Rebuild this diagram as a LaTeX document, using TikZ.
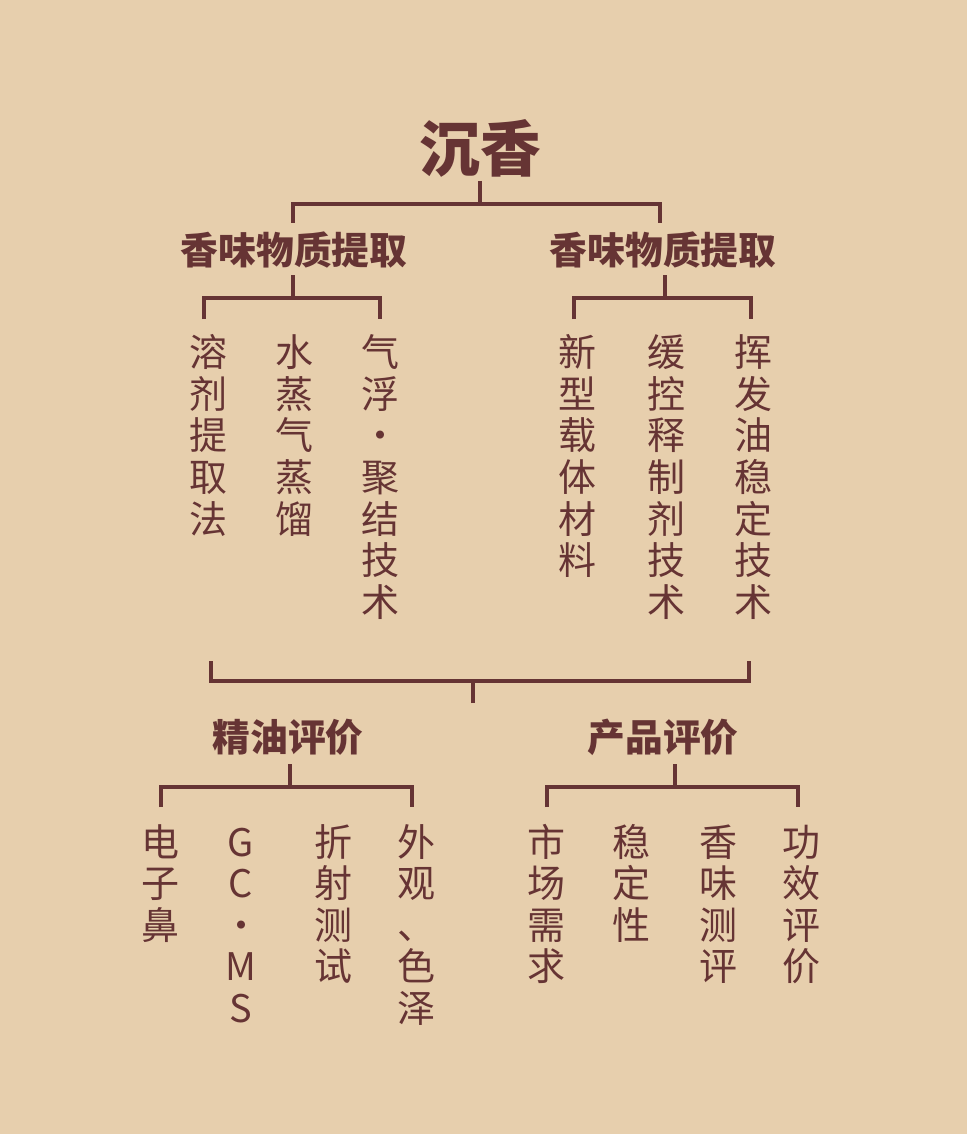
\documentclass[tikz,border=0pt]{standalone}
\usepackage{fontspec}
\setmainfont{Noto Sans CJK SC}
\usetikzlibrary{calc,positioning}
\definecolor{ink}{RGB}{102,52,52}
\definecolor{paper}{RGB}{231,207,173}

\begin{document}
\begin{tikzpicture} [x=0.75pt,y=-0.75pt,{title/.style={font=\fontsize{45.5}{50}\selectfont\bfseries,text=ink,inner sep=0}},{head/.style={font=\fontsize{28.3}{32}\selectfont\bfseries,text=ink,inner sep=0,text height=24.9pt,text depth=3.4pt}},{leaf/.style={font=\fontsize{28.5}{32}\selectfont,text=ink,inner sep=0,text height=25.1pt,text depth=3.4pt}},{link/.style={draw=ink,line width=2.6pt}}]
	%%paper
	\fill [paper] (0,0) rectangle (967,1134);
	%%headings
	\node [title] (root) at (480,148) {沉香};
	\node [head] (hdA) at (294,250) {香味物质提取};
	\node [head] (hdB) at (663,250) {香味物质提取};
	\node [head] (hdC) at (288,737) {精油评价};
	\node [head] (hdD) at (663,737) {产品评价};
	%%upper columns
	\foreach \x/\txt/\nm in {208/{溶,剂,提,取,法}/a1, 294/{水,蒸,气,蒸,馏}/a2, 380/{气,浮,·,聚,结,技,术}/a3, 577/{新,型,载,体,材,料}/b1, 666/{缓,控,释,制,剂,技,术}/b2, 753/{挥,发,油,稳,定,技,术}/b3}
		\foreach \c [count=\i] in \txt
			\node [leaf] (\nm-\i) at (\x,352+41.7*\i-41.7) {\c};
	%%lower columns
	\foreach \x/\txt/\nm in {160/{电,子,鼻}/c1, 241/{G,C,·,M,S}/c2, 333/{折,射,测,试}/c3, 416/{外,观,、,色,泽}/c4, 546/{市,场,需,求}/d1, 631/{稳,定,性}/d2, 718/{香,味,测,评}/d3, 801/{功,效,评,价}/d4}
		\foreach \c [count=\i] in \txt
			\node [leaf] (\nm-\i) at (\x,842+41.5*\i-41.5) {\c};
	%%root bracket
	\draw [link] ($(root)+(0,33)$) -- ($(root)+(0,55)$);
	\draw [link] ($(hdA)+(-1,-27)$) |- ($(hdB)+(-3,-46)$) -- ($(hdB)+(-3,-27)$);
	%%upper brackets
	\draw [link] ($(hdA)+(-1,25)$) -- ($(hdA)+(-1,48)$);
	\draw [link] ($(a1-1)+(-4,-33)$) |- ($(a3-1)+(0,-54)$) -- ($(a3-1)+(0,-33)$);
	\draw [link] ($(hdB)+(2,25)$) -- ($(hdB)+(2,48)$);
	\draw [link] ($(b1-1)+(-3,-33)$) |- ($(b3-1)+(-2,-54)$) -- ($(b3-1)+(-2,-33)$);
	%%join of both groups
	\coordinate (jl) at (211,661);
	\coordinate (jr) at (749,661);
	\coordinate (jm) at (473,703);
	\draw [link] (jl) -- ++(0,20) -| (jr);
	\draw [link] (jm) -- ++(0,-22);
	%%lower brackets
	\draw [link] ($(hdC)+(2,27)$) -- ($(hdC)+(2,49)$);
	\draw [link] ($(c1-1)+(1,-35)$) |- ($(c4-1)+(-4,-55)$) -- ($(c4-1)+(-4,-35)$);
	\draw [link] ($(hdD)+(12,27)$) -- ($(hdD)+(12,49)$);
	\draw [link] ($(d1-1)+(1,-35)$) |- ($(d4-1)+(-3,-55)$) -- ($(d4-1)+(-3,-35)$);
\end{tikzpicture}
\end{document}
